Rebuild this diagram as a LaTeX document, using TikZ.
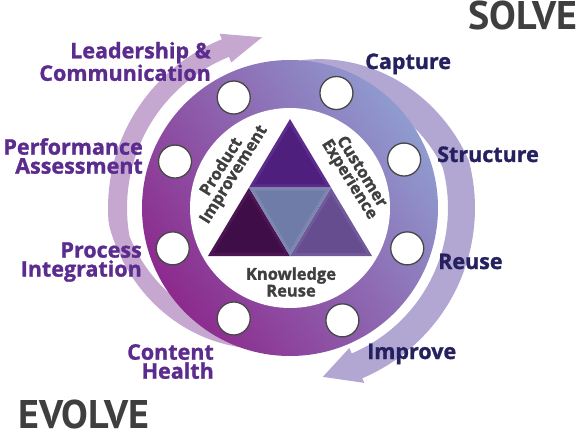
\documentclass[tikz,border=0pt]{standalone}
\usepackage{fontspec}
\setmainfont{Open Sans}[BoldFeatures={FakeBold=1.2}]
\newfontfamily\headfont{PT Sans}
\usetikzlibrary{calc}
\definecolor{lblL}{HTML}{5B2B8E}
\definecolor{lblR}{HTML}{25215F}
\definecolor{txtgray}{HTML}{3F3F3F}
\definecolor{lband}{HTML}{C6A7D0}
\definecolor{rband}{HTML}{B2A6D2}
\definecolor{ringA}{HTML}{8C2A8D}
\definecolor{ringB}{HTML}{8F9CD0}
\definecolor{triTop}{HTML}{4F1F7E}
\definecolor{triTopE}{HTML}{5B2C8C}
\definecolor{triBL}{HTML}{3F0D47}
\definecolor{triBLE}{HTML}{4B1653}
\definecolor{triBR}{HTML}{654D8F}
\definecolor{triBRE}{HTML}{71599A}
\definecolor{triC}{HTML}{6F7CA7}
\definecolor{triCE}{HTML}{7B87B0}
\begin{document}
\begin{tikzpicture}[x=1pt,y=1pt,
  dot/.style={circle,minimum size=33pt,inner sep=0pt,fill=white,draw=black!72,line width=1.3pt},
  lefttext/.style={text=lblL,font=\fontsize{21.5}{19}\selectfont\bfseries,align=right,inner sep=0pt},
  righttext/.style={text=lblR,font=\fontsize{21.5}{19}\selectfont\bfseries,inner sep=0pt},
  bigtext/.style={text=txtgray,font=\headfont\fontsize{40}{40}\selectfont\bfseries,inner sep=0pt},
  innertext/.style={text=txtgray,font=\fontsize{16.5}{14.5}\selectfont\bfseries,align=center,inner sep=0pt}]
\useasboundingbox (0,0) rectangle (576,432);
\coordinate (C) at (290,224);
% outer swoosh arrows
\begin{scope}[shift={(C)}]
  \fill[lband] (112:157) -- (99.3:173) -- (112:188) -- (112:182)
    -- plot[domain=112:250,samples=70] (\x:{182-34*max(0,\x-185)/65})
    -- plot[domain=250:112,samples=70] (\x:{163-15*max(0,\x-190)/25})
    -- cycle;
  \fill[rband] (-67:152) -- (-79:172) -- (-67:190) -- (-67:185)
    -- plot[domain=-67:86,samples=70] (\x:{185-37*max(0,\x-15)/71})
    -- plot[domain=86:-67,samples=70] (\x:{158-25*max(0,\x-15)/45})
    -- cycle;
\end{scope}
% ring
\shade[left color=ringA,right color=ringB,shading angle=125] (C) circle[radius=148];
\fill[white] (C) circle[radius=100];
% dots
\foreach \a [count=\i] in {117,68,23,-19,-65,-117,-161,158}
  \node[dot] (d\i) at ($(C)+(\a:124)$) {};
% triangles
\coordinate (A) at (290,313);
\coordinate (BL) at (208,176);
\coordinate (BR) at (372,176);
\coordinate (ML) at ($(A)!0.5!(BL)$);
\coordinate (MR) at ($(A)!0.5!(BR)$);
\coordinate (MB) at ($(BL)!0.5!(BR)$);
\coordinate (G1) at (barycentric cs:A=1,ML=1,MR=1);
\coordinate (G2) at (barycentric cs:ML=1,BL=1,MB=1);
\coordinate (G3) at (barycentric cs:MR=1,MB=1,BR=1);
\coordinate (G4) at (barycentric cs:ML=1,MR=1,MB=1);
\fill[triTopE] (A) -- (ML) -- (MR) -- cycle;
\fill[triTop] ($(G1)!0.86!(A)$) -- ($(G1)!0.86!(ML)$) -- ($(G1)!0.86!(MR)$) -- cycle;
\fill[triBLE] (ML) -- (BL) -- (MB) -- cycle;
\fill[triBL] ($(G2)!0.86!(ML)$) -- ($(G2)!0.86!(BL)$) -- ($(G2)!0.86!(MB)$) -- cycle;
\fill[triBRE] (MR) -- (MB) -- (BR) -- cycle;
\fill[triBR] ($(G3)!0.86!(MR)$) -- ($(G3)!0.86!(MB)$) -- ($(G3)!0.86!(BR)$) -- cycle;
\fill[triCE] (ML) -- (MR) -- (MB) -- cycle;
\fill[triC] ($(G4)!0.86!(ML)$) -- ($(G4)!0.86!(MR)$) -- ($(G4)!0.86!(MB)$) -- cycle;
% inner texts
\node[innertext,rotate=58] (pi) at (228,261) {Product\\Improvement};
\node[innertext,rotate=-58] (ce) at (355,256) {Customer\\Experience};
\node[innertext] (kr) at (291,150) {Knowledge\\Reuse};
% labels
\node[lefttext,anchor=east] (lc) at (211,370.5) {Leadership \&\\Communication};
\node[lefttext,anchor=east] (pa) at (143,276) {Performance\\Assessment};
\node[lefttext,anchor=east] (pr) at (142,170) {Process\\Integration};
\node[lefttext,anchor=east] (ch) at (214,70.5) {Content\\Health};
\node[righttext,anchor=base west] (cap) at (365,363) {Capture};
\node[righttext,anchor=base west] (str) at (437,270) {Structure};
\node[righttext,anchor=base west] (reu) at (438,163) {Reuse};
\node[righttext,anchor=base west] (imp) at (367,73) {Improve};
\node[bigtext,anchor=base west] (solve) at (468,402) {SOLVE};
\node[bigtext,anchor=base west] (evolve) at (18,4) {EVOLVE};
\end{tikzpicture}
\end{document}
